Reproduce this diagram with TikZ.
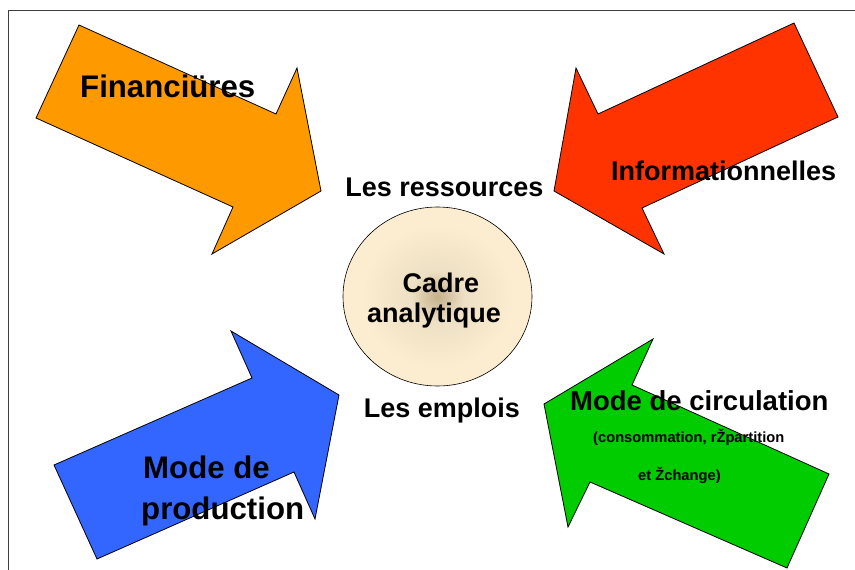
\documentclass[tikz,border=0pt]{standalone}
\usepackage{fontspec}
\setmainfont{Liberation Sans}
\usetikzlibrary{shapes.geometric}
\definecolor{forange}{RGB}{255,153,0}
\definecolor{fred}{RGB}{255,51,0}
\definecolor{fblue}{RGB}{51,102,255}
\definecolor{fgreen}{RGB}{0,204,0}
\definecolor{cin}{RGB}{196,176,138}
\definecolor{cmid}{RGB}{238,224,196}
\definecolor{cout}{RGB}{252,236,208}
\definecolor{frame}{RGB}{64,64,64}
\pgfdeclareradialshading{cadreshade}{\pgfpoint{0bp}{0bp}}{color(0bp)=(cin); color(7bp)=(cmid); color(20bp)=(cout); color(50bp)=(cout)}
\tikzset{
  bigarrow/.style={draw=black, line width=0.8pt, line join=miter},
  lbl/.style={inner sep=0pt, anchor=base west, font=\bfseries\fontsize{27}{30}\selectfont},
  biglbl/.style={lbl, font=\bfseries\fontsize{31.2}{34}\selectfont},
  smalllbl/.style={lbl, font=\bfseries\fontsize{14.7}{17}\selectfont},
}
\begin{document}
\begin{tikzpicture}[x=1pt,y=-1pt]
\useasboundingbox (0,0) rectangle (855,570);
% frame
\draw[frame, line width=1pt] (8,570) -- (8,10) -- (855,10);
% orange arrow
\draw[bigarrow, fill=forange] (79,25) -- (276,114) -- (297,68) -- (321,191) -- (212,254) -- (233,207) -- (36,118) -- cycle;
% red arrow
\draw[bigarrow, fill=fred] (794,23) -- (838,117) -- (642,208) -- (664,254) -- (554,191) -- (576,68) -- (598,114) -- cycle;
% blue arrow
\draw[bigarrow, fill=fblue] (54,465) -- (252,378) -- (231,331) -- (339,395) -- (315,519) -- (294,472) -- (97,559) -- cycle;
% green arrow
\draw[bigarrow, fill=fgreen] (829,474) -- (787,568) -- (590,482) -- (568,527) -- (544,404) -- (653,339) -- (632,385) -- cycle;
% centre
\node (cadre) [ellipse, draw=black, line width=0.6pt, shading=cadreshade, minimum width=189pt, minimum height=179pt] at (437.5,296.5) {};
\node (cadre1) [lbl, anchor=base] at (441,292) {Cadre};
\node (cadre2) [lbl, anchor=base] at (434,322) {analytique};
% labels
\node (ress) [lbl, anchor=base] at (444.5,196) {Les ressources};
\node (empl) [lbl, anchor=base] at (442,417) {Les emplois};
\node (fin) [biglbl] at (80,97) {Financiüres};
\node (info) [lbl] at (611,180) {Informationnelles};
\node (prod1) [biglbl] at (143,478) {Mode de};
\node (prod2) [biglbl] at (141,519) {production};
\node (circ) [lbl, font=\bfseries\fontsize{27.5}{30}\selectfont] at (570,410) {Mode de circulation};
\node (circ2) [smalllbl] at (593,442) {(consommation, rŽpartition};
\node (circ3) [smalllbl] at (638,480) {et Žchange)};
\end{tikzpicture}
\end{document}
